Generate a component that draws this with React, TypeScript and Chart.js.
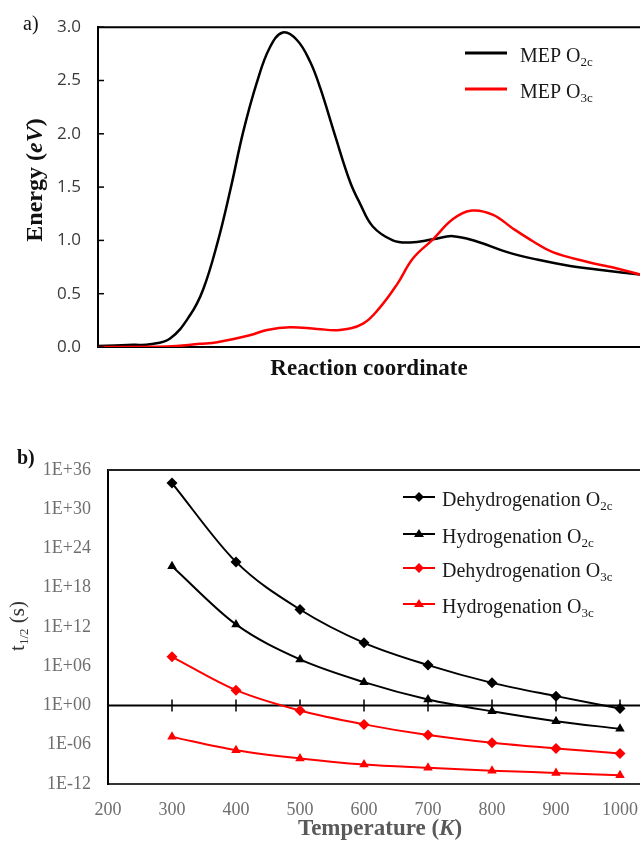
import React, { useEffect, useRef } from 'react';
import { Chart, registerables } from 'chart.js';

Chart.register(...registerables);

const SERIF = '"Liberation Serif", "Times New Roman", serif';
const SANS = '"Open Sans", "DejaVu Sans", sans-serif';
const RED = '#ff0000';

// ---------- Panel a) : minimum energy paths ----------
const mepO2cX = [0, 6.5, 9.6, 13.3, 17.0, 19.4, 22.0, 24.4, 26.8, 29.3, 31.7, 34.1, 36.7, 39.1, 41.0, 43.7, 46.5, 48.3, 50.7, 54.4, 57.6, 61.8, 65.5, 69.9, 75.5, 81.0, 87.1, 93.2, 100];
const mepO2cE = [0.01, 0.02, 0.025, 0.08, 0.30, 0.54, 0.97, 1.47, 2.02, 2.48, 2.81, 2.95, 2.88, 2.68, 2.43, 1.99, 1.55, 1.35, 1.13, 1.00, 0.98, 1.01, 1.04, 0.99, 0.89, 0.82, 0.76, 0.72, 0.68];
const mepO3cX = [0, 12.7, 18.8, 22.0, 28.0, 31.2, 35.4, 40.4, 44.6, 48.9, 52.0, 55.2, 58.1, 61.8, 65.5, 69.0, 72.9, 76.6, 80.3, 83.9, 90.2, 96.3, 100];
const mepO3cE = [0.0, 0.005, 0.03, 0.045, 0.11, 0.16, 0.185, 0.17, 0.16, 0.22, 0.37, 0.59, 0.83, 1.01, 1.20, 1.28, 1.24, 1.11, 0.99, 0.89, 0.80, 0.73, 0.68];
const energyTicks = [0, 0.5, 1.0, 1.5, 2.0, 2.5, 3.0];

// ---------- Panel b) : half-life vs temperature ----------
const temperatures = [300, 400, 500, 600, 700, 800, 900, 1000];
const dehydO2c = [1e34, 9e21, 4.7e14, 3.8e9, 1.5e6, 2.9e3, 27, 0.35];
const hydO2c = [2e21, 2.5e12, 1.1e7, 3.7e3, 8.3, 0.13, 4e-3, 2.7e-4];
const dehydO3c = [2.8e7, 224, 0.17, 1.3e-3, 3e-5, 2e-6, 2.7e-7, 4.6e-8];
const hydO3c = [1.6e-5, 1.5e-7, 8e-9, 9.5e-10, 3e-10, 1.1e-10, 5e-11, 2.2e-11];
const tTickValues = [1e-12, 1e-6, 1, 1e6, 1e12, 1e18, 1e24, 1e30, 1e36];
const tTickLabels = ['1E-12', '1E-06', '1E+00', '1E+06', '1E+12', '1E+18', '1E+24', '1E+30', '1E+36'];
const tempTicks = [200, 300, 400, 500, 600, 700, 800, 900, 1000];
const tempTickLabels = ['200', '300', '400', '500', '600', '700', '800', '900', '1000'];

type Part = { t: string; font: string; dy?: number };

function drawRich(ctx: CanvasRenderingContext2D, parts: Part[], x: number, y: number, align: 'left' | 'center', color: string) {
  ctx.save();
  ctx.fillStyle = color;
  ctx.textAlign = 'left';
  ctx.textBaseline = 'alphabetic';
  let w = 0;
  for (const p of parts) { ctx.font = p.font; w += ctx.measureText(p.t).width; }
  let cx = align === 'center' ? x - w / 2 : x;
  for (const p of parts) {
    ctx.font = p.font;
    ctx.fillText(p.t, cx, y + (p.dy || 0));
    cx += ctx.measureText(p.t).width;
  }
  ctx.restore();
}

function drawMarker(ctx: CanvasRenderingContext2D, style: string, x: number, y: number, r: number, color: string) {
  ctx.save();
  ctx.fillStyle = color;
  ctx.beginPath();
  if (style === 'rectRot') {
    ctx.moveTo(x, y - r); ctx.lineTo(x + r, y); ctx.lineTo(x, y + r); ctx.lineTo(x - r, y);
  } else {
    ctx.moveTo(x, y - r); ctx.lineTo(x + r, y + r * 0.6); ctx.lineTo(x - r, y + r * 0.6);
  }
  ctx.closePath();
  ctx.fill();
  ctx.restore();
}

const topPlugin = {
  id: 'topDecor',
  afterDraw(chart: any) {
    const ctx: CanvasRenderingContext2D = chart.ctx;
    const a = chart.chartArea;
    const ys = chart.scales.y;
    ctx.save();
    ctx.strokeStyle = '#000';
    ctx.lineWidth = 2;
    ctx.beginPath(); ctx.moveTo(a.left, a.top); ctx.lineTo(a.right, a.top); ctx.stroke();
    ctx.lineWidth = 1.5;
    for (const v of energyTicks) {
      const py = ys.getPixelForValue(v);
      ctx.beginPath(); ctx.moveTo(a.left, py); ctx.lineTo(a.left + 6, py); ctx.stroke();
    }
    ctx.restore();

    drawRich(ctx, [{ t: 'a)', font: `20px ${SERIF}` }], 23, 30, 'left', '#111');
    drawRich(ctx, [{ t: 'Reaction coordinate', font: `bold 23px ${SERIF}` }], (a.left + a.right) / 2, 375, 'center', '#111');

    ctx.save();
    ctx.translate(42, 180);
    ctx.rotate(-Math.PI / 2);
    drawRich(ctx, [
      { t: 'Energy (', font: `bold 24px ${SERIF}` },
      { t: 'eV', font: `italic bold 24px ${SERIF}` },
      { t: ')', font: `bold 24px ${SERIF}` },
    ], 0, 0, 'center', '#111');
    ctx.restore();

    const items = [
      { sub: '2c', color: '#000', y: 53 },
      { sub: '3c', color: RED, y: 89 },
    ];
    for (const it of items) {
      ctx.save();
      ctx.strokeStyle = it.color; ctx.lineWidth = 3;
      ctx.beginPath(); ctx.moveTo(465, it.y); ctx.lineTo(507, it.y); ctx.stroke();
      ctx.restore();
      drawRich(ctx, [
        { t: 'MEP O', font: `20px ${SERIF}` },
        { t: it.sub, font: `13px ${SERIF}`, dy: 4 },
      ], 520, it.y + 9, 'left', '#1a1a1a');
    }
  },
};

const bottomPlugin = {
  id: 'bottomDecor',
  beforeDatasetsDraw(chart: any) {
    const ctx: CanvasRenderingContext2D = chart.ctx;
    const a = chart.chartArea;
    const ys = chart.scales.y;
    const xs = chart.scales.x;
    const y0 = ys.getPixelForValue(1);
    ctx.save();
    ctx.strokeStyle = '#222';
    ctx.lineWidth = 2;
    ctx.beginPath(); ctx.moveTo(a.left, a.top); ctx.lineTo(a.right, a.top); ctx.stroke();
    ctx.strokeStyle = '#000';
    ctx.beginPath(); ctx.moveTo(a.left, y0); ctx.lineTo(a.right, y0); ctx.stroke();
    ctx.lineWidth = 1.5;
    for (const t of temperatures) {
      const px = xs.getPixelForValue(t);
      ctx.beginPath(); ctx.moveTo(px, y0 - 6); ctx.lineTo(px, y0 + 6); ctx.stroke();
    }
    ctx.restore();
  },
  afterDraw(chart: any) {
    const ctx: CanvasRenderingContext2D = chart.ctx;
    const a = chart.chartArea;
    const xs = chart.scales.x;

    // x tick labels
    ctx.save();
    ctx.font = `18px ${SERIF}`;
    ctx.fillStyle = '#6e6e6e';
    ctx.textAlign = 'center';
    ctx.textBaseline = 'middle';
    tempTicks.forEach((v, i) => {
      ctx.fillText(tempTickLabels[i], xs.getPixelForValue(v), a.bottom + 26);
    });
    ctx.restore();

    drawRich(ctx, [{ t: 'b)', font: `bold 20px ${SERIF}` }], 17, 64, 'left', '#111');
    drawRich(ctx, [
      { t: 'Temperature (', font: `bold 23px ${SERIF}` },
      { t: 'K', font: `italic bold 23px ${SERIF}` },
      { t: ')', font: `bold 23px ${SERIF}` },
    ], 380, 435, 'center', '#595959');

    ctx.save();
    ctx.translate(24, 226);
    ctx.rotate(-Math.PI / 2);
    drawRich(ctx, [
      { t: 't', font: `21px ${SERIF}` },
      { t: '1/2', font: `13px ${SERIF}`, dy: 4 },
      { t: ' (s)', font: `21px ${SERIF}` },
    ], 0, 0, 'center', '#333');
    ctx.restore();

    const items = [
      { label: 'Dehydrogenation O', sub: '2c', color: '#000', style: 'rectRot', y: 97 },
      { label: 'Hydrogenation O', sub: '2c', color: '#000', style: 'triangle', y: 134 },
      { label: 'Dehydrogenation O', sub: '3c', color: RED, style: 'rectRot', y: 168 },
      { label: 'Hydrogenation O', sub: '3c', color: RED, style: 'triangle', y: 204 },
    ];
    for (const it of items) {
      ctx.save();
      ctx.strokeStyle = it.color; ctx.lineWidth = 2;
      ctx.beginPath(); ctx.moveTo(403, it.y); ctx.lineTo(435, it.y); ctx.stroke();
      ctx.restore();
      drawMarker(ctx, it.style, 419, it.y, 5, it.color);
      drawRich(ctx, [
        { t: it.label, font: `20px ${SERIF}` },
        { t: it.sub, font: `13px ${SERIF}`, dy: 4 },
      ], 442, it.y + 9, 'left', '#1a1a1a');
    }
  },
};

function topConfig(): any {
  return {
    type: 'line',
    data: {
      datasets: [
        {
          label: 'MEP O2c',
          data: mepO2cX.map((x, i) => ({ x, y: mepO2cE[i] })),
          borderColor: '#000', borderWidth: 2.5, pointRadius: 0,
          tension: 0.4, fill: false, order: 1,
        },
        {
          label: 'MEP O3c',
          data: mepO3cX.map((x, i) => ({ x, y: mepO3cE[i] })),
          borderColor: RED, borderWidth: 2.5, pointRadius: 0,
          tension: 0.4, fill: false, order: 0,
        },
      ],
    },
    options: {
      responsive: false, animation: false, devicePixelRatio: 1,
      layout: { autoPadding: false, padding: { top: 21, left: 0, right: 0, bottom: 0 } },
      plugins: { legend: { display: false }, tooltip: { enabled: false } },
      scales: {
        x: {
          type: 'linear', min: 0, max: 100,
          ticks: { display: false },
          grid: { display: false, drawTicks: false },
          border: { display: true, color: '#000', width: 2 },
          afterFit: (s: any) => { s.height = 53; },
        },
        y: {
          type: 'linear', min: 0, max: 3,
          afterBuildTicks: (s: any) => { s.ticks = energyTicks.map((v) => ({ value: v })); },
          ticks: {
            callback: (v: any) => Number(v).toFixed(1),
            font: { family: SANS, size: 17 }, color: '#3a3a3a', padding: 17,
          },
          grid: { display: false, drawTicks: false },
          border: { display: true, color: '#000', width: 2 },
          afterFit: (s: any) => { s.width = 98; },
        },
      },
    },
    plugins: [topPlugin],
  };
}

function bottomConfig(): any {
  const mk = (label: string, vals: number[], color: string, style: string) => ({
    label,
    data: temperatures.map((t, i) => ({ x: t, y: vals[i] })),
    borderColor: color, backgroundColor: color, borderWidth: 2,
    pointStyle: style, pointRadius: 5.5, pointBorderWidth: 0,
    pointBackgroundColor: color,
    cubicInterpolationMode: 'monotone', fill: false,
  });
  return {
    type: 'line',
    data: {
      datasets: [
        mk('Dehydrogenation O2c', dehydO2c, '#000', 'rectRot'),
        mk('Hydrogenation O2c', hydO2c, '#000', 'triangle'),
        mk('Dehydrogenation O3c', dehydO3c, RED, 'rectRot'),
        mk('Hydrogenation O3c', hydO3c, RED, 'triangle'),
      ],
    },
    options: {
      responsive: false, animation: false, devicePixelRatio: 1,
      layout: { autoPadding: false, padding: { top: 70, left: 0, right: 0, bottom: 0 } },
      plugins: { legend: { display: false }, tooltip: { enabled: false } },
      scales: {
        x: {
          type: 'linear', min: 200, max: 1031.25,
          afterBuildTicks: (s: any) => { s.ticks = tempTicks.map((v) => ({ value: v })); },
          ticks: { display: false },
          grid: { display: false, drawTicks: false },
          border: { display: true, color: '#333', width: 2 },
          afterFit: (s: any) => { s.height = 57; },
        },
        y: {
          type: 'logarithmic', min: 1e-12, max: 1e36,
          afterBuildTicks: (s: any) => { s.ticks = tTickValues.map((v) => ({ value: v })); },
          ticks: {
            callback: (_v: any, i: number) => tTickLabels[i],
            font: { family: SERIF, size: 18 }, color: '#6e6e6e', padding: 17,
          },
          grid: { display: false, drawTicks: false },
          border: { display: true, color: '#000', width: 2 },
          afterFit: (s: any) => { s.width = 108; },
        },
      },
    },
    plugins: [bottomPlugin],
  };
}

export default function App() {
  const topRef = useRef<HTMLCanvasElement>(null);
  const botRef = useRef<HTMLCanvasElement>(null);
  useEffect(() => {
    document.body.style.margin = '0';
    const c1 = new Chart(topRef.current as HTMLCanvasElement, topConfig());
    const c2 = new Chart(botRef.current as HTMLCanvasElement, bottomConfig());
    return () => { c1.destroy(); c2.destroy(); };
  }, []);
  return (
    <div style={{ width: 640, height: 841, background: '#fff', overflow: 'hidden' }}>
      <canvas ref={topRef} width={640} height={400} style={{ display: 'block', width: 640, height: 400 }} />
      <canvas ref={botRef} width={640} height={441} style={{ display: 'block', width: 640, height: 441 }} />
    </div>
  );
}
